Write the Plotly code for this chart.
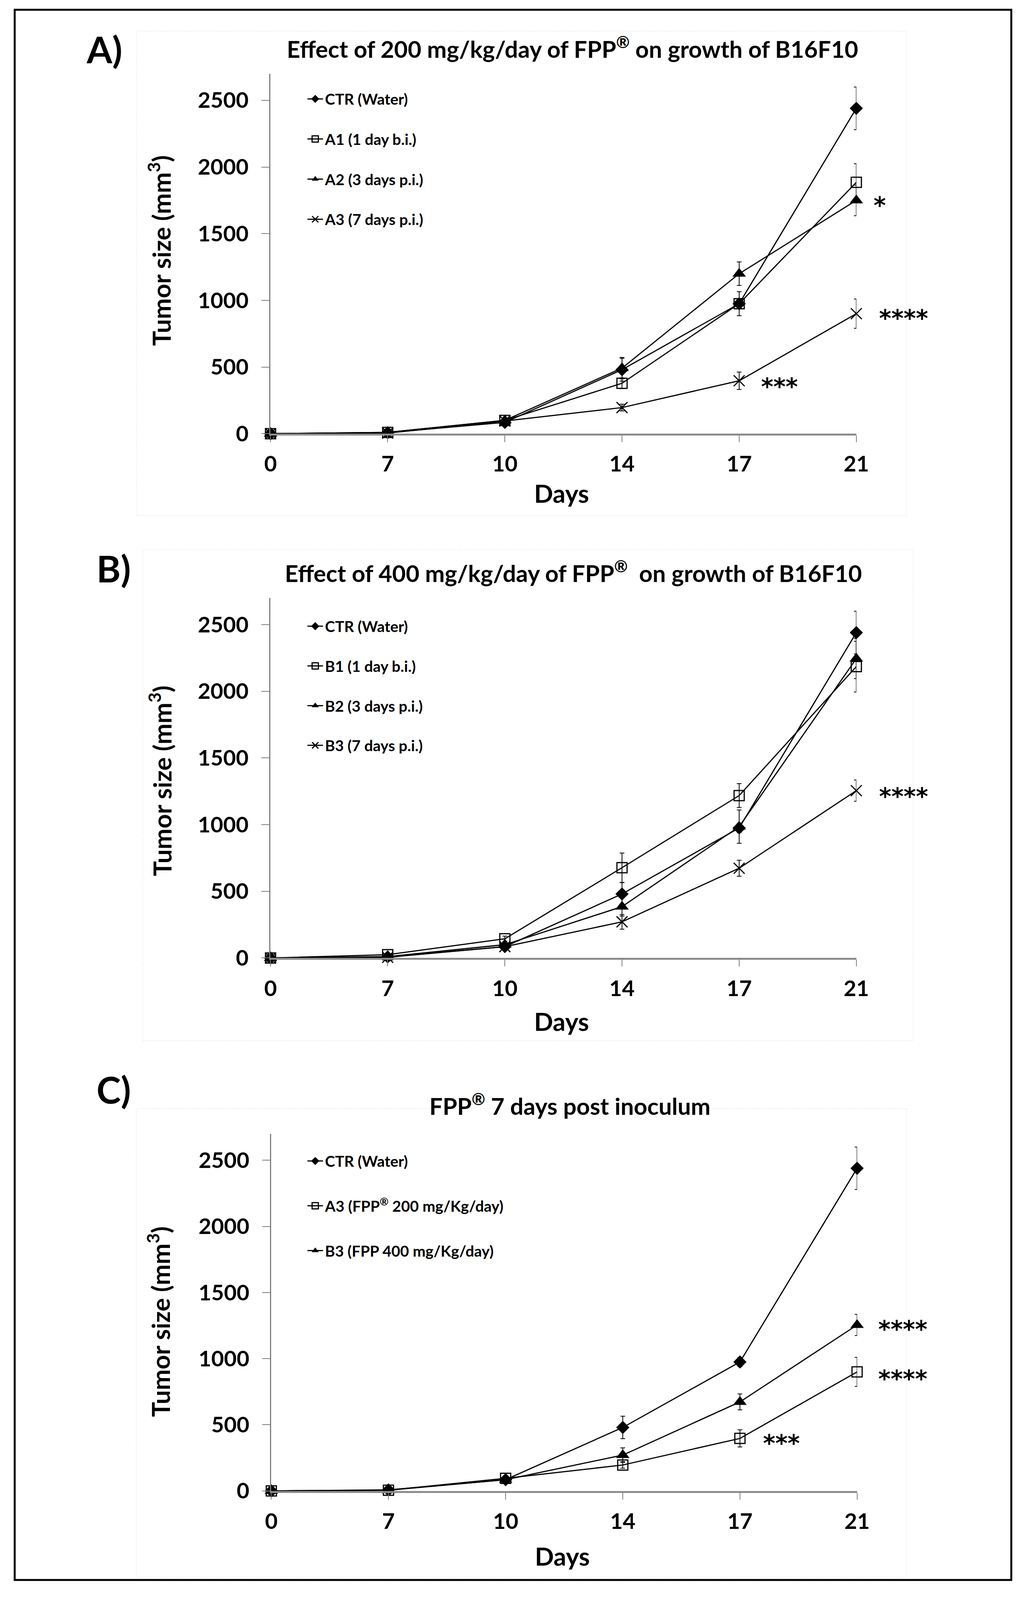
import plotly.graph_objects as go

W, H = 2644, 4224

# x categories (days), equally spaced like the original category axis
days = ["0", "7", "10", "14", "17", "21"]

# control group (same in all panels)
ctr = [0, 8, 85, 480, 975, 2440]
ctr_err = [0, 3, 20, 85, 35, 160]

# 200 mg/kg/day groups
a1 = [0, 10, 100, 378, 975, 1885]
a1_err = [0, 3, 15, 40, 90, 140]
a2 = [0, 10, 100, 492, 1200, 1750]
a2_err = [0, 3, 15, 80, 88, 115]
a3 = [0, 5, 95, 196, 397, 900]
a3_err = [0, 2, 15, 25, 65, 110]

# 400 mg/kg/day groups
b1 = [0, 25, 144, 677, 1218, 2185]
b1_err = [0, 5, 20, 110, 90, 190]
b2 = [0, 10, 100, 385, 985, 2245]
b2_err = [0, 3, 15, 70, 125, 150]
b3 = [0, 5, 85, 271, 673, 1255]
b3_err = [0, 2, 15, 55, 60, 80]

y_ticks = [0, 500, 1000, 1500, 2000, 2500]

FONT = "Lato"
STAR_FONT = "DejaVu Sans"


def px_x(v):
    return v / W


def px_y(v):
    return 1 - v / H


def bold(s):
    return "<b>" + s + "</b>"


diamond = dict(symbol="diamond", size=26, color="black")
square = dict(symbol="square-open", size=26, color="black", line=dict(width=3, color="black"))
triangle = dict(symbol="triangle-up", size=30, color="black")
cross = dict(symbol="x-thin-open", size=28, color="black", line=dict(width=3, color="black"))

# panel layout in pixels: x0, x1 of axis, y top (2700) and y bottom (0)
panels = [
    dict(key="", x0=689, x1=2216, top=196, bot=1154,
         title="Effect of 200 mg/kg/day of FPP<sup>®</sup> on growth of B16F10", tx=1476, ty=126,
         letter="A)", lx=256, ly=130, ytx=400, yty=667, dy=1312, leg_y=230, gap=49,
         series=[("CTR (Water)", ctr, ctr_err, diamond),
                 ("A1 (1 day b.i.)", a1, a1_err, square),
                 ("A2 (3 days p.i.)", a2, a2_err, triangle),
                 ("A3 (7 days p.i.)", a3, a3_err, cross)],
         stars=[(5, 1750, "*", 42), (5, 902, "****", 56), (4, 390, "***", 54)]),
    dict(key="2", x0=689, x1=2216, top=1591, bot=2549,
         title="Effect of 400 mg/kg/day of FPP<sup>®</sup>  on growth of B16F10", tx=1478, ty=1521,
         letter="B)", lx=280, ly=1512, ytx=402, yty=2078, dy=2717, leg_y=1633, gap=48,
         series=[("CTR (Water)", ctr, ctr_err, diamond),
                 ("B1 (1 day b.i.)", b1, b1_err, square),
                 ("B2 (3 days p.i.)", b2, b2_err, triangle),
                 ("B3 (7 days p.i.)", b3, b3_err, cross)],
         stars=[(5, 1250, "****", 56)]),
    dict(key="3", x0=691, x1=2218, top=3017, bot=3967,
         title="FPP<sup>®</sup> 7 days post inoculum", tx=1470, ty=2939,
         letter="C)", lx=280, ly=2898, ytx=398, yty=3517, dy=4140, leg_y=3056, gap=61,
         series=[("CTR (Water)", ctr, ctr_err, diamond),
                 ("A3 (FPP<sup>®</sup> 200 mg/Kg/day)", a3, a3_err, square),
                 ("B3 (FPP 400 mg/Kg/day)", b3, b3_err, triangle)],
         stars=[(5, 1262, "****", 52), (5, 885, "****", 52), (4, 397, "***", 57)]),
]

fig = go.Figure()
annotations = []
shapes = []

for p in panels:
    k = p["key"]
    xa = "x" + k
    ya = "y" + k
    leg = "legend" + k
    for i, (name, vals, errs, mk) in enumerate(p["series"]):
        fig.add_trace(go.Scatter(
            x=list(range(len(days))), y=vals, name=bold(name),
            mode="lines+markers", xaxis=xa, yaxis=ya, legend=leg,
            legendgroup=leg + str(i),
            line=dict(color="black", width=3), marker=mk,
            error_y=dict(type="data", array=errs, visible=True, color="black",
                         thickness=2, width=6),
            cliponaxis=False, showlegend=True,
        ))

    axis_x = dict(
        domain=[px_x(p["x0"]), px_x(p["x1"])], anchor=ya, range=[0, len(days) - 1],
        tickmode="array", tickvals=list(range(len(days))), ticktext=[bold(d) for d in days],
        ticks="outside", ticklen=17, tickwidth=2, tickcolor="#7f7f7f",
        showline=True, linecolor="#8c8c8c", linewidth=5, showgrid=False, zeroline=False,
        ticklabelstandoff=8,
        tickfont=dict(family=FONT, size=56, color="black"),
    )
    axis_y = dict(
        domain=[px_y(p["bot"]), px_y(p["top"])], anchor=xa, range=[0, 2700],
        tickmode="array", tickvals=y_ticks, ticktext=[bold(str(t)) for t in y_ticks],
        ticks="outside", ticklen=20, tickwidth=2, tickcolor="#7f7f7f",
        showline=True, linecolor="#7f7f7f", linewidth=3, showgrid=False, zeroline=False,
        ticklabelstandoff=22,
        tickfont=dict(family=FONT, size=56, color="black"),
    )
    fig.update_layout(**{"xaxis" + k: axis_x, "yaxis" + k: axis_y})

    fig.update_layout(**{leg: dict(
        x=px_x(780), y=px_y(p["leg_y"]), xanchor="left", yanchor="top",
        bgcolor="rgba(0,0,0,0)", borderwidth=0, tracegroupgap=p["gap"],
        itemwidth=40, font=dict(family=FONT, size=39, color="black"),
    )})

    annotations.append(dict(text=bold(p["title"]), x=px_x(p["tx"]), y=px_y(p["ty"]),
                            xref="paper", yref="paper", showarrow=False,
                            xanchor="center", yanchor="middle",
                            font=dict(family=FONT, size=60, color="black")))
    annotations.append(dict(text=bold(p["letter"]), x=px_x(p["lx"]), y=px_y(p["ly"]),
                            xref="paper", yref="paper", showarrow=False,
                            xanchor="center", yanchor="middle",
                            font=dict(family=FONT, size=94, color="black")))
    annotations.append(dict(text=bold("Tumor size (mm<sup>3</sup>)"), x=px_x(p["ytx"]), y=px_y(p["yty"]),
                            xref="paper", yref="paper", showarrow=False, textangle=-90,
                            xanchor="center", yanchor="middle",
                            font=dict(family=FONT, size=64, color="black")))
    annotations.append(dict(text=bold("Days"), x=px_x((p["x0"] + p["x1"]) / 2 - 5), y=px_y(p["dy"]),
                            xref="paper", yref="paper", showarrow=False,
                            xanchor="center", yanchor="middle",
                            font=dict(family=FONT, size=64, color="black")))
    for sx, sy, stxt, shift in p["stars"]:
        annotations.append(dict(text=bold(stxt), x=sx, y=sy, xref=xa, yref=ya, showarrow=False,
                                xanchor="left", yanchor="middle", xshift=shift, yshift=-13,
                                font=dict(family=STAR_FONT, size=60, color="black")))

# faint chart-area frames and the outer black border
for x0, y0, x1, y1 in [(340, 83, 2347, 1372), (356, 1463, 2364, 2769), (339, 2950, 2347, 4197)]:
    shapes.append(dict(type="rect", xref="paper", yref="paper",
                       x0=px_x(x0), x1=px_x(x1), y0=px_y(y1), y1=px_y(y0),
                       line=dict(color="#ececec", width=2, dash="dot"), layer="below"))
shapes.append(dict(type="rect", xref="paper", yref="paper",
                   x0=px_x(22), x1=px_x(2620), y0=px_y(4204), y1=px_y(26),
                   line=dict(color="black", width=5)))

fig.update_layout(
    autosize=True, margin=dict(l=0, r=0, t=0, b=0),
    paper_bgcolor="white", plot_bgcolor="white",
    annotations=annotations, shapes=shapes,
)

fix_page = (
    "document.documentElement.style.margin='0';"
    "document.body.style.margin='0';"
    "document.body.style.overflow='hidden';"
    "var gd=document.getElementById('{plot_id}');"
    "gd.style.width='100vw';gd.style.height='100vh';"
    "Plotly.Plots.resize(gd);"
)

fig.write_html("out.html", default_width="100vw", default_height="100vh",
               config={"displayModeBar": False, "responsive": True},
               post_script=fix_page)
